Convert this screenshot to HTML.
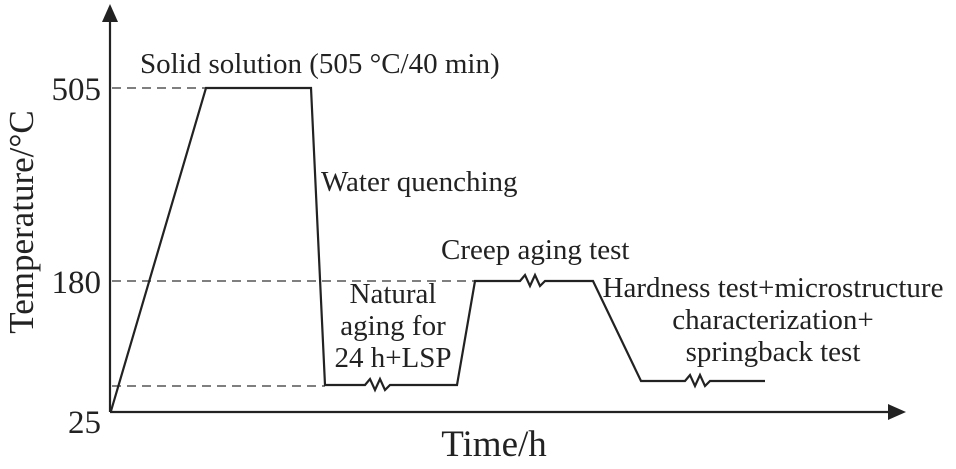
<!DOCTYPE html>
<html><head><style>
html,body{margin:0;padding:0;background:#fff;}
svg text{font-family:"Liberation Serif",serif;fill:#222;}
</style></head><body>
<svg width="956" height="464" viewBox="0 0 956 464" xmlns="http://www.w3.org/2000/svg">
<g stroke="#555" stroke-width="1.5" stroke-dasharray="9,6" fill="none">
<line x1="112" y1="88" x2="205" y2="88"/>
<line x1="112" y1="281" x2="475" y2="281"/>
<line x1="112" y1="386" x2="325" y2="386"/>
</g>
<g stroke="#222" stroke-width="2.2" fill="none">
<line x1="110" y1="412" x2="110" y2="18"/>
<line x1="110" y1="412" x2="892" y2="412"/>
<polyline points="111,411 206,88 311,88 325,385 365,385 370,379 375,390 380,379 385,390 390,385 457,385 475,281 520,281 525,275 530,286 535,275 540,286 545,281 593,281 641,381 685,381 690,375 695,386 700,375 705,386 710,381 765,381"/>
</g>
<polygon points="110,4 102,22 118,22" fill="#222"/>
<polygon points="906,412 888,404 888,420" fill="#222"/>
<g font-size="33" text-anchor="end">
<text x="101" y="100">505</text>
<text x="101" y="293">180</text>
<text x="101" y="433">25</text>
</g>
<text x="33" y="222" font-size="35" text-anchor="middle" transform="rotate(-90 33 222)">Temperature/°C</text>
<text x="494" y="456" font-size="37" text-anchor="middle">Time/h</text>
<g font-size="29">
<text x="140" y="73">Solid solution (505 °C/40 min)</text>
<text x="321" y="191">Water quenching</text>
<text x="441" y="259">Creep aging test</text>
<text x="393" y="303" text-anchor="middle">Natural</text>
<text x="393" y="335" text-anchor="middle">aging for</text>
<text x="393" y="367" text-anchor="middle">24 h+LSP</text>
<text x="773" y="297" text-anchor="middle">Hardness test+microstructure</text>
<text x="773" y="329" text-anchor="middle">characterization+</text>
<text x="773" y="361" text-anchor="middle">springback test</text>
</g>
</svg>
</body></html>
